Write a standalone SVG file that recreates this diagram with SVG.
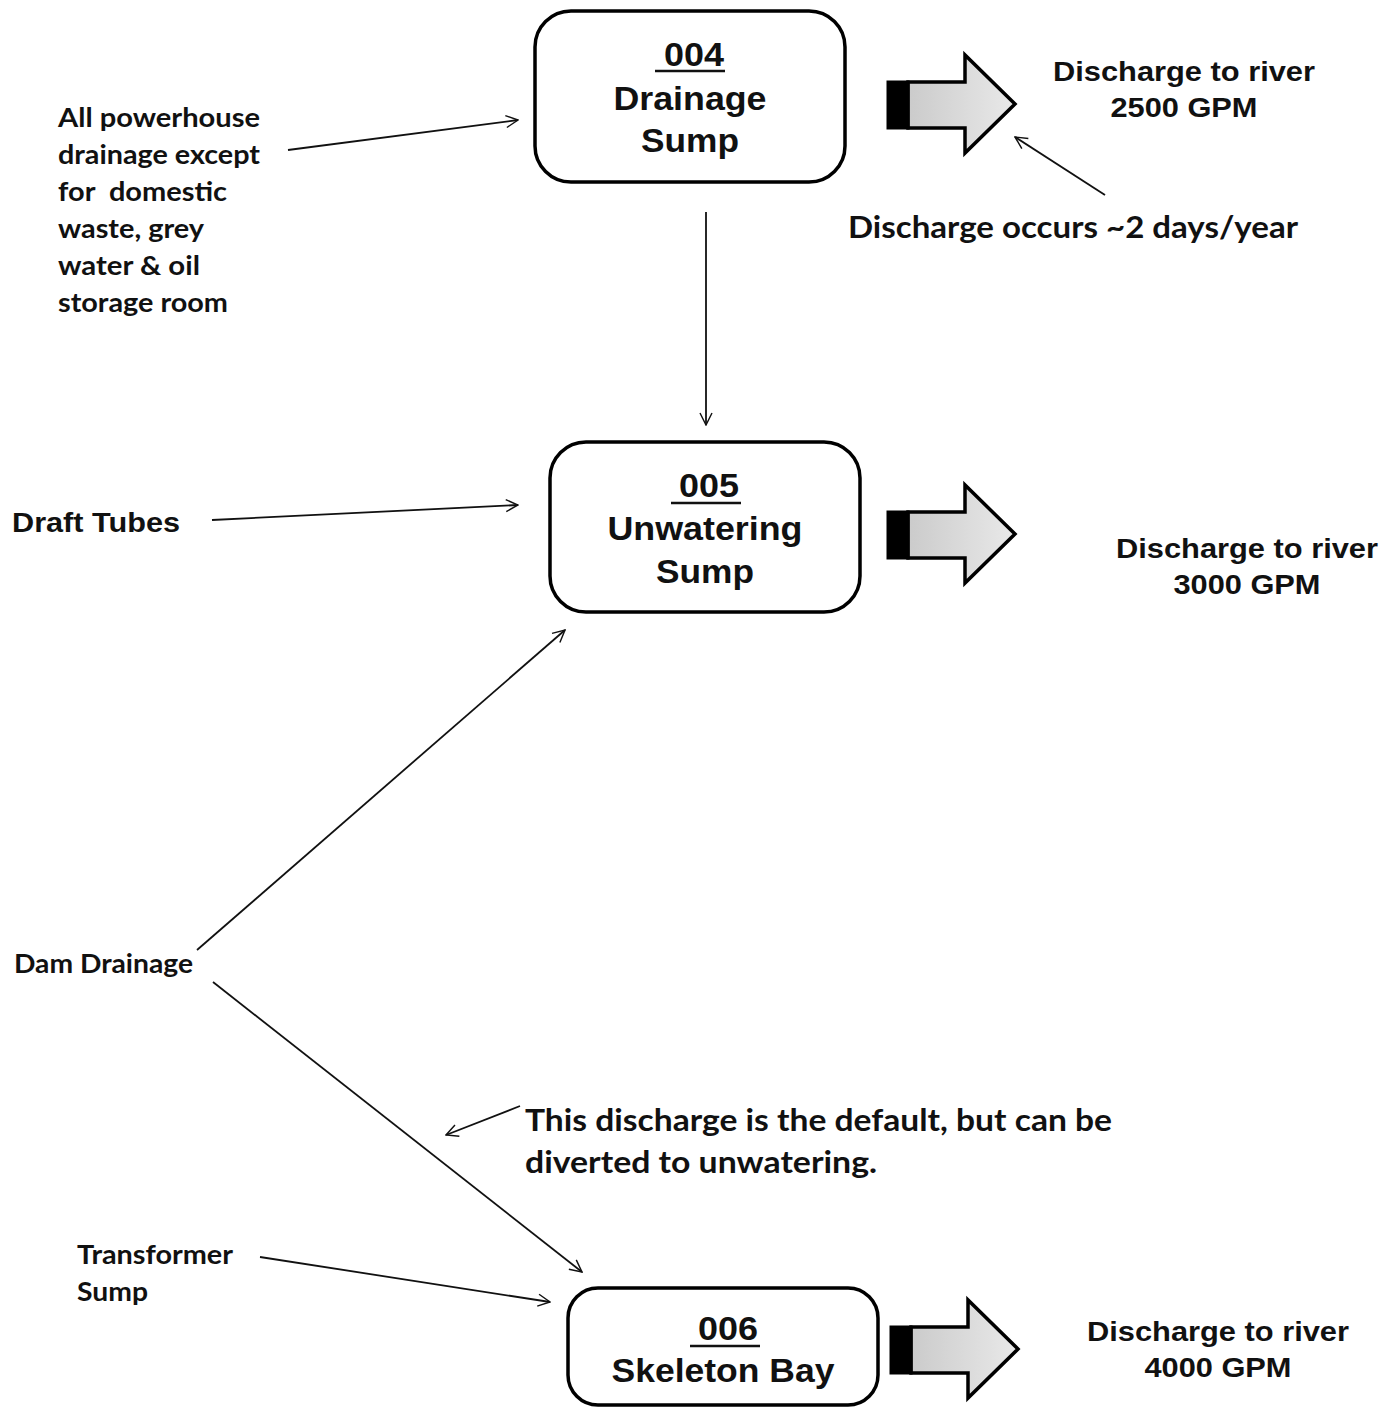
<svg xmlns="http://www.w3.org/2000/svg" width="1393" height="1408" viewBox="0 0 1393 1408">
<defs>
<style>
.box{fill:#fff;stroke:#000;stroke-width:3.5}
.nt{font-family:"Liberation Sans",Arial,sans-serif;font-weight:bold;font-size:34px;text-anchor:middle;fill:#111}
.ul{stroke:#111;stroke-width:2.5}
.rt{font-family:"Liberation Sans",Arial,sans-serif;font-weight:bold;font-size:28px;text-anchor:middle;fill:#111}
.cl{font-family:Lato,"Open Sans",sans-serif;font-weight:bold;font-size:27px;fill:#111}
.cl2{font-family:Lato,"Open Sans",sans-serif;font-weight:bold;font-size:31px;fill:#111}
.ar{font-family:"Liberation Sans",Arial,sans-serif;font-weight:bold;font-size:28px;fill:#111}
.con line{stroke:#111;stroke-width:1.8;fill:none;marker-end:url(#open)}
.barrow{fill:url(#g);stroke:#000;stroke-width:3.5;stroke-linejoin:miter}
</style>
<marker id="open" viewBox="0 0 12 12" refX="11" refY="6" markerWidth="8" markerHeight="8" orient="auto" markerUnits="strokeWidth">
<path d="M1,1 L11,6 L1,11" fill="none" stroke="#111" stroke-width="1.2"/>
</marker>
<linearGradient id="g" x1="0" y1="0" x2="1" y2="0">
<stop offset="0" stop-color="#cbcbcb"/>
<stop offset="1" stop-color="#e9e9e9"/>
</linearGradient>
<g id="blockArrow">
<path class="barrow" d="M20,27 L77,27 L77,0 L127,49 L77,98 L77,73 L20,73 Z"/>
<rect x="0" y="27" width="20" height="46" fill="#000" stroke="#000" stroke-width="3"/>
</g>
</defs>
<rect width="1393" height="1408" fill="#fff"/>

<g id="node004">
<rect class="box" x="535" y="11" width="310" height="171" rx="36"/>
<text class="nt" x="694" y="66" textLength="60" lengthAdjust="spacingAndGlyphs">004</text>
<line class="ul" x1="655" y1="71" x2="725" y2="71"/>
<text class="nt" x="690" y="110" textLength="153" lengthAdjust="spacingAndGlyphs">Drainage</text>
<text class="nt" x="690" y="152" textLength="98" lengthAdjust="spacingAndGlyphs">Sump</text>
</g>

<g id="node005">
<rect class="box" x="550" y="442" width="310" height="170" rx="36"/>
<text class="nt" x="709" y="497" textLength="60" lengthAdjust="spacingAndGlyphs">005</text>
<line class="ul" x1="671" y1="503" x2="741" y2="503"/>
<text class="nt" x="705" y="540" textLength="195" lengthAdjust="spacingAndGlyphs">Unwatering</text>
<text class="nt" x="705" y="583" textLength="98" lengthAdjust="spacingAndGlyphs">Sump</text>
</g>

<g id="node006">
<rect class="box" x="568" y="1288" width="310" height="117" rx="30"/>
<text class="nt" x="728" y="1340" textLength="60" lengthAdjust="spacingAndGlyphs">006</text>
<line class="ul" x1="690" y1="1346" x2="760" y2="1346"/>
<text class="nt" x="723" y="1382" textLength="223" lengthAdjust="spacingAndGlyphs">Skeleton Bay</text>
</g>

<g id="discharge1">
<use href="#blockArrow" x="888" y="55"/>
<text class="rt" x="1184" y="81" textLength="262" lengthAdjust="spacingAndGlyphs">Discharge to river</text>
<text class="rt" x="1184" y="117" textLength="147" lengthAdjust="spacingAndGlyphs">2500 GPM</text>
</g>
<g id="discharge2">
<use href="#blockArrow" x="888" y="485"/>
<text class="rt" x="1247" y="558" textLength="262" lengthAdjust="spacingAndGlyphs">Discharge to river</text>
<text class="rt" x="1247" y="594" textLength="147" lengthAdjust="spacingAndGlyphs">3000 GPM</text>
</g>
<g id="discharge3">
<use href="#blockArrow" x="891" y="1300"/>
<text class="rt" x="1218" y="1341" textLength="262" lengthAdjust="spacingAndGlyphs">Discharge to river</text>
<text class="rt" x="1218" y="1377" textLength="147" lengthAdjust="spacingAndGlyphs">4000 GPM</text>
</g>

<g id="src-powerhouse">
<text class="cl" x="58" y="127" textLength="202" lengthAdjust="spacingAndGlyphs">All powerhouse</text>
<text class="cl" x="58" y="164" textLength="202" lengthAdjust="spacingAndGlyphs">drainage except</text>
<text class="cl" x="58" y="201" textLength="169" lengthAdjust="spacingAndGlyphs" style="white-space:pre">for  domestic</text>
<text class="cl" x="58" y="238" textLength="146" lengthAdjust="spacingAndGlyphs">waste, grey</text>
<text class="cl" x="58" y="275" textLength="142" lengthAdjust="spacingAndGlyphs">water &amp; oil</text>
<text class="cl" x="58" y="312" textLength="170" lengthAdjust="spacingAndGlyphs">storage room</text>
</g>
<g id="src-draft"><text class="ar" x="12" y="532" textLength="168" lengthAdjust="spacingAndGlyphs">Draft Tubes</text></g>
<g id="src-dam"><text class="cl" x="14" y="973" textLength="179" lengthAdjust="spacingAndGlyphs">Dam Drainage</text></g>
<g id="src-transformer">
<text class="cl" x="77" y="1264" textLength="156" lengthAdjust="spacingAndGlyphs">Transformer</text>
<text class="cl" x="77" y="1301" textLength="71" lengthAdjust="spacingAndGlyphs">Sump</text>
</g>
<g id="note1"><text class="cl2" x="848" y="238" textLength="450" lengthAdjust="spacingAndGlyphs">Discharge occurs ~2 days/year</text></g>
<g id="note2">
<text class="cl2" x="525" y="1131" textLength="587" lengthAdjust="spacingAndGlyphs">This discharge is the default, but can be</text>
<text class="cl2" x="525" y="1173" textLength="352" lengthAdjust="spacingAndGlyphs">diverted to unwatering.</text>
</g>

<g id="connectors" class="con">
<line x1="288" y1="150" x2="518" y2="120"/>
<line x1="706" y1="212" x2="706" y2="425"/>
<line x1="212" y1="520" x2="518" y2="505"/>
<line x1="197" y1="950" x2="565" y2="630"/>
<line x1="213" y1="982" x2="582" y2="1272"/>
<line x1="260" y1="1257" x2="550" y2="1302"/>
<line x1="1105" y1="195" x2="1015" y2="137"/>
<line x1="520" y1="1106" x2="446" y2="1135"/>
</g>
</svg>
